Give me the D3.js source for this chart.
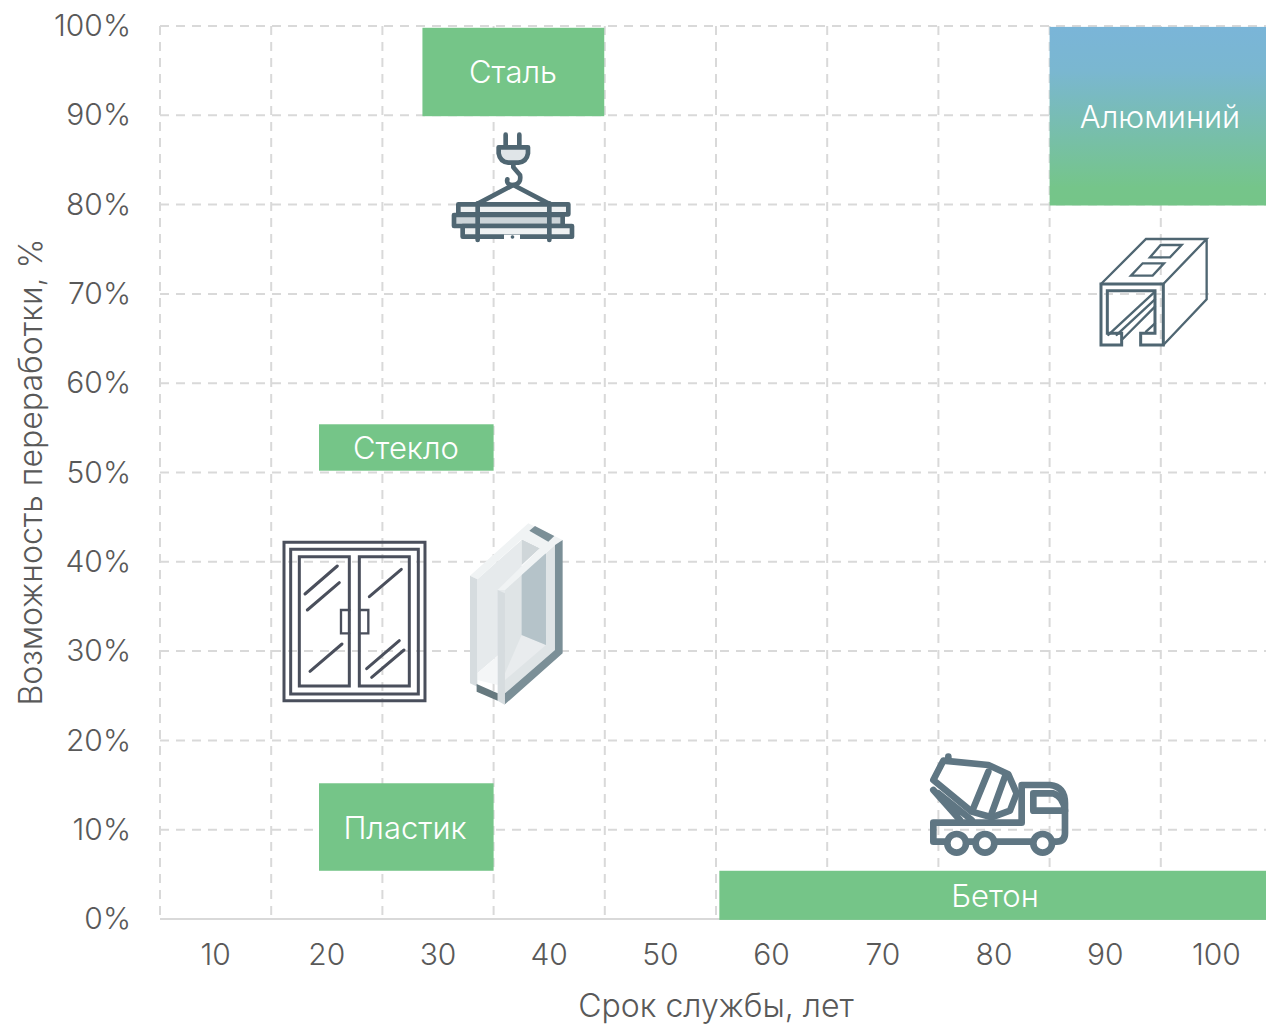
<!DOCTYPE html>
<html>
<head>
<meta charset="utf-8">
<script src="https://cdn.jsdelivr.net/npm/d3@7"></script>
<style>
  html, body { margin: 0; padding: 0; background: #fff; overflow: hidden; }
  text { font-family: Inter, Lato, sans-serif; font-weight: 300; }
  .axis path, .axis line { display: none; }
  .axis text { fill: #595959; font-size: 30px; }
  .title { fill: #595959; font-size: 32px; }
  .grid { stroke: #d9d9d9; stroke-width: 2; stroke-dasharray: 9 7; }
  .label { fill: #fff; font-size: 31px; text-anchor: middle; dominant-baseline: central; }
</style>
</head>
<body>
<svg id="chart" width="1266" height="1025"></svg>
<script>
var lifeTicks = ["10", "20", "30", "40", "50", "60", "70", "80", "90", "100"];
var gridX = [0, 10, 20, 30, 40, 50, 60, 70, 80, 90];
var gridY = [10, 20, 30, 40, 50, 60, 70, 80, 90, 100];
var percentTicks = [0, 10, 20, 30, 40, 50, 60, 70, 80, 90, 100];

var materials = ["Сталь", "Алюминий", "Стекло", "Пластик", "Бетон"];
var lifeFrom = [23.6, 80, 14.3, 14.3, 50.3];
var lifeTo = [39.95, 100, 30, 30, 100];
var recycleFrom = [89.9, 79.9, 50.2, 5.4, -0.1];
var recycleTo = [99.8, 99.9, 55.4, 15.2, 5.4];

var svg = d3.select("#chart");

var x = d3.scaleLinear().domain([0, 100]).range([160, 1272]);
var xBand = d3.scaleBand().domain(lifeTicks).range([160, 1272]);
var y = d3.scaleLinear().domain([0, 100]).range([919, 26]);

// gridlines
svg.append("g").selectAll("line").data(gridY).join("line")
  .attr("class", "grid")
  .attr("x1", x(0)).attr("x2", x(100))
  .attr("y1", function(d) { return y(d); }).attr("y2", function(d) { return y(d); });
svg.append("g").selectAll("line").data(gridX).join("line")
  .attr("class", "grid")
  .attr("x1", function(d) { return x(d); }).attr("x2", function(d) { return x(d); })
  .attr("y1", y(100)).attr("y2", y(0));
svg.append("line")
  .attr("x1", x(0)).attr("x2", x(100)).attr("y1", y(0)).attr("y2", y(0))
  .attr("stroke", "#d9d9d9").attr("stroke-width", 2);

// axes
svg.append("g").attr("class", "axis")
  .attr("transform", "translate(0," + y(0) + ")")
  .call(d3.axisBottom(xBand).tickSize(0).tickPadding(25));
svg.append("g").attr("class", "axis")
  .attr("transform", "translate(131,0)")
  .call(d3.axisLeft(y).tickValues(percentTicks).tickSize(0).tickPadding(0)
    .tickFormat(function(d) { return d + "%"; }));

svg.append("text").attr("class", "title")
  .attr("x", 716).attr("y", 1017).attr("text-anchor", "middle")
  .text("Срок службы, лет");
svg.append("text").attr("class", "title")
  .attr("transform", "translate(42,472) rotate(-90)").attr("text-anchor", "middle")
  .text("Возможность переработки, %");

// aluminium gradient
var grad = svg.append("defs").append("linearGradient")
  .attr("id", "alu").attr("x1", 0).attr("y1", 0).attr("x2", 0).attr("y2", 1);
grad.append("stop").attr("offset", "0%").attr("stop-color", "#7ab5d8");
grad.append("stop").attr("offset", "25%").attr("stop-color", "#7ab7d0");
grad.append("stop").attr("offset", "90%").attr("stop-color", "#75c58a");
grad.append("stop").attr("offset", "100%").attr("stop-color", "#75c588");

// material blocks
materials.forEach(function(m, i) {
  svg.append("rect")
    .attr("x", x(lifeFrom[i]))
    .attr("y", y(recycleTo[i]))
    .attr("width", x(lifeTo[i]) - x(lifeFrom[i]))
    .attr("height", y(recycleFrom[i]) - y(recycleTo[i]))
    .attr("fill", m === "Алюминий" ? "url(#alu)" : "#75c588");
});
var labelX = [513, 1160, 406, 405, 995];
materials.forEach(function(m, i) {
  svg.append("text").attr("class", "label")
    .attr("x", labelX[i])
    .attr("y", y((recycleFrom[i] + recycleTo[i]) / 2))
    .text(m);
});

// icons, drawn in zoomed crop units (1/3 px)
function icon(ox, oy) {
  return svg.append("g")
    .attr("transform", "translate(" + ox + "," + oy + ") scale(0.3333)")
    .attr("fill", "none").attr("stroke-linejoin", "round").attr("stroke-linecap", "round");
}

// crane load
var c = icon(420, 120).attr("stroke", "#4f6672").attr("stroke-width", 14);
c.append("path").attr("d", "M257,44V80M298,44V80");
c.append("path").attr("fill", "#e0e5e8").attr("d", "M236,82H324V100Q320,125 295,128H265Q240,125 236,100Z");
c.append("path").attr("d", "M280,130V142L300,165Q305,192 280,195Q258,195 262,178");
c.append("path").attr("d", "M175,250L280,195L385,250");
c.append("path").attr("fill", "#eef1f2").attr("d", "M115,253H445V283H115Z");
c.append("path").attr("fill", "#ccd4d8").attr("d", "M102,285H428V318H102Z");
c.append("path").attr("fill", "#eef1f2").attr("d", "M128,318H456V350H128Z");
c.append("path").attr("d", "M173,250V360M388,250V360");
c.append("path").attr("stroke", "#fff").attr("stroke-linecap", "butt").attr("d", "M252,351H300");
c.append("path").attr("stroke-width", 10).attr("d", "M277,351H278");

// aluminium profile
var a = icon(1040, 20).attr("stroke", "#4f6672").attr("stroke-width", 7).attr("stroke-linejoin", "miter");
a.append("path").attr("stroke-width", 9).attr("d", "M183,792H370V975H302V940H345V812H202V940H245V975H183Z");
a.append("path").attr("d", "M183,792L318,657H500L370,792M500,657V838L370,975");
a.append("path").attr("d", "M330,712L362,675H425L390,712ZM273,767L308,730H372L338,767Z");
a.append("path").attr("d", "M205,945L345,815M230,945L345,838M245,960L345,860M318,935L345,910");

// window
var w = icon(270, 510).attr("stroke", "#4a4f5c").attr("stroke-width", 9).attr("stroke-linejoin", "miter");
w.append("path").attr("d", "M42,97H465V572H42ZM62,118H445V552H62Z");
w.append("path").attr("d", "M88,140H238V528H88ZM268,140H418V528H268Z");
w.append("path").attr("stroke-width", 7).attr("d", "M238,300H213V370H238M268,300H295V370H268");
w.append("path").attr("d", "M105,252L202,168M112,300L208,218M120,484L216,402M298,260L394,178M290,476L388,392M305,502L402,420");

// glass block
var g = svg.append("g").attr("transform", "translate(270,510) scale(0.3333)").attr("stroke", "none");
var glass = [
  ["#e6eaec", "622,208 755,90 755,375 622,490"],
  ["#f4f6f7", "622,490 683,438 683,525 622,510"],
  ["#dfe4e6", "705,240 855,105 855,420 705,550"],
  ["#e9ecee", "705,490 755,375 828,405 705,510"],
  ["#cfd6d9", "755,88 810,115 755,165"],
  ["#b5c3c9", "755,170 828,130 828,405 755,375"],
  ["#f0f3f4", "600,197 775,40 878,90 855,105 705,240 683,240 810,115 755,88 622,208"],
  ["#d6dcdf", "600,197 622,208 622,530 600,520"],
  ["#d6dcdf", "683,240 705,250 705,585 683,572"],
  ["#7b8f97", "855,105 878,90 878,430 705,583 705,550 855,420"],
  ["#66797f", "620,522 683,550 683,572 620,545"],
  ["#7b8f97", "778,62 795,48 853,78 835,95"]
];
glass.forEach(function(p) { g.append("polygon").attr("fill", p[0]).attr("points", p[1]); });

// mixer truck
var t = icon(910, 740).attr("stroke", "#5f7683").attr("stroke-width", 20);
t.append("path").attr("d", "M115,50V62");
t.append("path").attr("d", "M70,150L150,240M85,160L185,240");
t.append("path").attr("fill", "#fff").attr("d", "M100,62L70,120L185,215L245,232L300,212L320,160L295,103L235,75Z");
t.append("path").attr("d", "M235,95L190,205M285,110L245,220");
t.append("path").attr("d", "M70,248H335V135H420Q465,140 465,190V280Q465,305 440,305H70Z");
t.append("path").attr("d", "M370,160H430Q460,170 465,212H370Z");
[140, 225, 398].forEach(function(cx) {
  t.append("circle").attr("cx", cx).attr("cy", 310).attr("r", 28).attr("fill", "#fff");
});
</script>
</body>
</html>
